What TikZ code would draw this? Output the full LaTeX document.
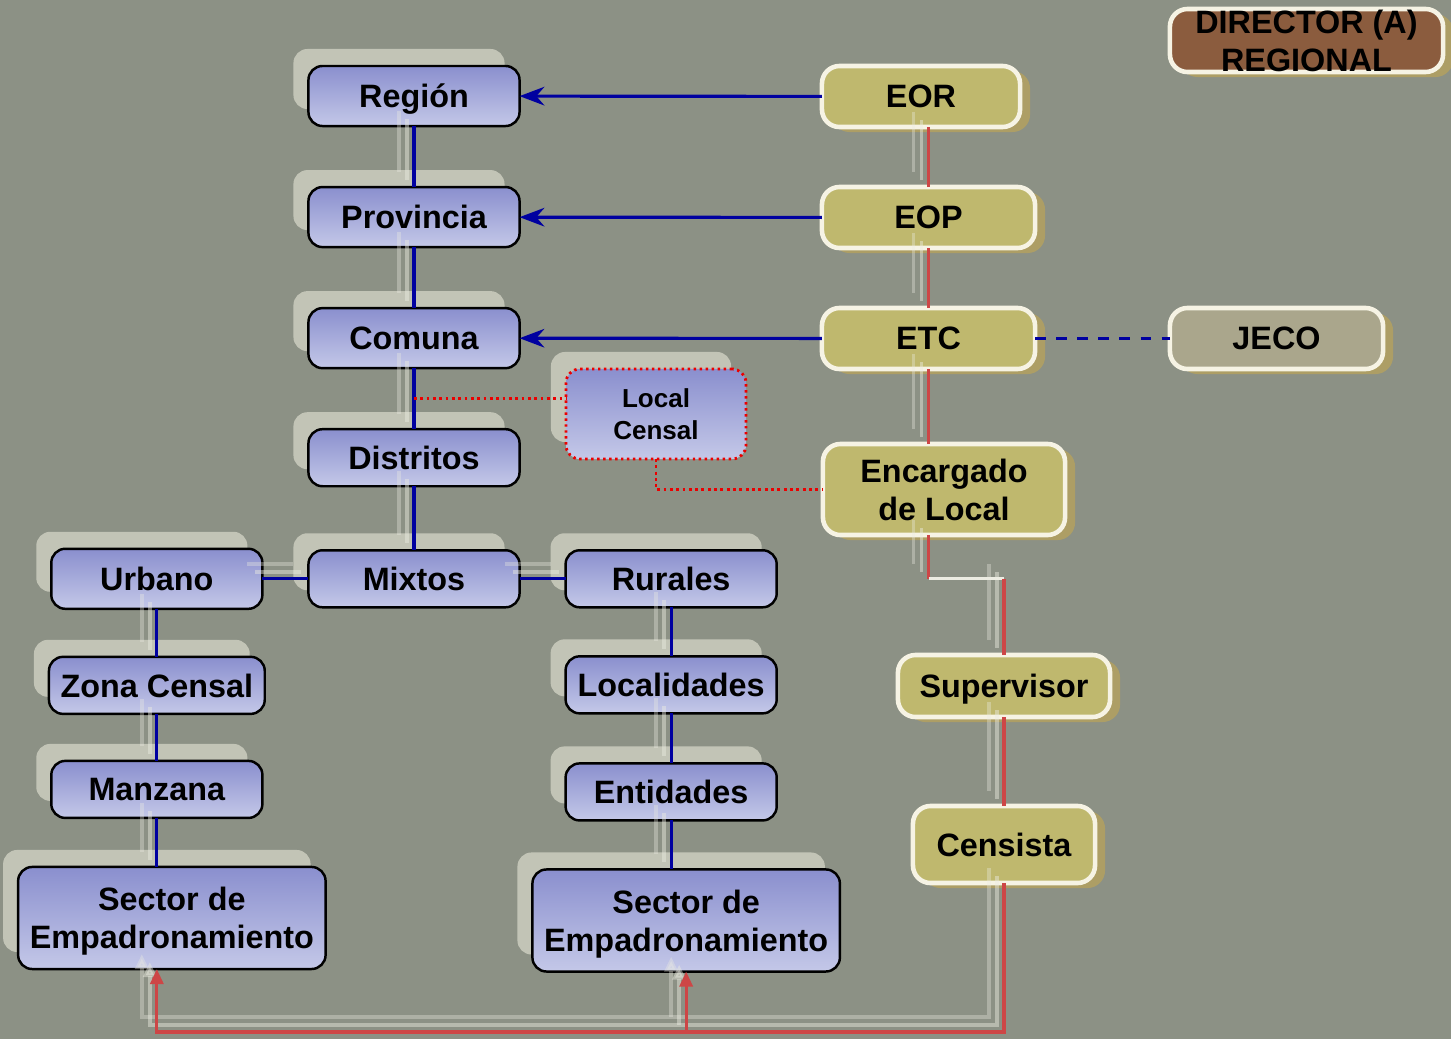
\documentclass[tikz,border=0pt]{standalone}
\usepackage{fontspec}
\setmainfont{Liberation Sans}
\usepackage{tikz}
\usetikzlibrary{arrows.meta,positioning,shadows,backgrounds}
\usepackage{xcolor}
\definecolor{bgfill}{RGB}{140,145,133}
\definecolor{bltop}{RGB}{138,143,206}
\definecolor{blmid}{RGB}{212,216,240}
\definecolor{blbot}{RGB}{196,200,232}
\definecolor{blshade}{RGB}{218,218,204}
\definecolor{yfill}{RGB}{191,184,110}
\definecolor{yshade}{RGB}{196,168,80}
\definecolor{yedge}{RGB}{246,243,228}
\definecolor{jecofill}{RGB}{170,166,140}
\definecolor{dirfill}{RGB}{139,92,62}
\definecolor{lineblue}{RGB}{0,0,160}
\definecolor{linered}{RGB}{205,70,70}
\definecolor{dotred}{RGB}{235,0,0}
\definecolor{lnwhite}{RGB}{236,236,226}
\tikzset{
    bluebox/.style={rectangle, draw=black, line width=0.7pt, rounded corners=4pt,
                    top color=bltop, middle color=blmid, bottom color=blbot,
                    minimum width=2.11cm, minimum height=0.6cm, align=center,
                    outer sep=0pt, text depth=0pt,
                    font=\fontsize{9.2}{10.8}\selectfont\bfseries,
                    general shadow={fill=blshade, draw=none, opacity=.7,
                                    shadow xshift=-0.15cm, shadow yshift=0.17cm}},
    ybox/.style={rectangle, draw=yedge, line width=1.3pt, rounded corners=5pt,
                 fill=#1, minimum height=0.61cm, align=center, outer sep=0pt,
                 text depth=0pt,
                 font=\fontsize{9.2}{10.8}\selectfont\bfseries,
                 general shadow={fill=yshade, draw=none, opacity=.6,
                                 shadow xshift=0.1cm, shadow yshift=-0.05cm}},
    ybox/.default=yfill,
    lnshade/.style={
        preaction={draw=lnwhite, line width=1.1pt, opacity=.45,
                    transform canvas={shift={(-7,-7)}}},
        preaction={draw=lnwhite, line width=1.1pt, opacity=.35,
                    transform canvas={shift={(-15,-15)}}}},
    bln/.style={draw=lineblue, line width=0.9pt, lnshade},
    rln/.style={draw=linered, line width=0.9pt, lnshade},
    barr/.style={-Stealth, draw=lineblue, line width=0.9pt},
    dotln/.style={draw=dotred, densely dotted, line width=0.8pt},
    rarr/.style={-{Triangle[length=0.15cm,width=0.13cm]}, rln},
}

\begin{document}
\begin{tikzpicture}[x=0.01cm, y=-0.01cm, node distance=0.61cm and 0.46cm]
    \useasboundingbox (0,0) rectangle (1451,1039);
    \begin{scope}[on background layer]
        \fill[bgfill] (0,0) rectangle (1451,1039);
    \end{scope}

    % geographic column
    \node[bluebox] (reg) at (414,96) {Región};
    \node[bluebox, below=of reg]  (prov) {Provincia};
    \node[bluebox, below=of prov] (com)  {Comuna};
    \node[bluebox, below=of com, minimum height=0.57cm]  (dist) {Distritos};
    \node[bluebox, below=0.64cm of dist, minimum height=0.57cm] (mix) {Mixtos};
    \node[bluebox, left=of mix]  (urb) {Urbano};
    \node[bluebox, right=of mix, minimum height=0.57cm] (rur) {Rurales};

    \node[bluebox, below=0.48cm of urb, minimum height=0.57cm]  (zona) {Zona Censal};
    \node[bluebox, below=0.47cm of zona, minimum height=0.57cm] (manz) {Manzana};
    \node[bluebox, below=0.49cm of manz, xshift=0.15cm,
          minimum width=3.01cm, minimum height=1.02cm] (secl) {Sector de\\Empadronamiento};

    \node[bluebox, below=0.49cm of rur, minimum height=0.57cm] (loc) {Localidades};
    \node[bluebox, below=0.5cm of loc, minimum height=0.57cm]  (ent) {Entidades};
    \node[bluebox, below=0.49cm of ent, xshift=0.15cm,
          minimum width=3.01cm, minimum height=1.02cm] (secr) {Sector de\\Empadronamiento};

    \node[bluebox, draw=dotred, densely dotted, line width=0.8pt,
          minimum width=1.8cm, minimum height=0.9cm,
          font=\fontsize{7.4}{9.1}\selectfont\bfseries] (lcen) at (656,414) {Local\\Censal};

    % staff column
    \node[ybox, minimum width=1.98cm] (eor) at (921,96.5)  {EOR};
    \node[ybox, minimum width=2.13cm] (eop) at (928.5,217.5) {EOP};
    \node[ybox, minimum width=2.13cm] (etc) at (928.5,338.5) {ETC};
    \node[ybox, minimum width=2.42cm, minimum height=0.91cm] (enc) at (944,489.5) {Encargado\\de Local};
    \node[ybox, minimum width=2.12cm, minimum height=0.62cm] (sup) at (1004,686) {Supervisor};
    \node[ybox, minimum width=1.82cm, minimum height=0.77cm] (cen) at (1004,844.5) {Censista};
    \node[ybox=jecofill, minimum width=2.13cm] (jeco) at (1276.5,338.5) {JECO};
    \node[ybox=dirfill, minimum width=2.73cm, minimum height=0.63cm, inner ysep=0pt]
        (dir) at (1306.5,40.5) {DIRECTOR (A)\\REGIONAL};

    % hierarchy lines
    \draw[bln] (reg) -- (prov);
    \draw[bln] (prov) -- (com);
    \draw[bln] (com) -- (dist);
    \draw[bln] (dist) -- (mix);
    \draw[bln] (mix) -- (urb);
    \draw[bln] (mix) -- (rur);
    \draw[bln] (urb) -- (zona);
    \draw[bln] (zona) -- (manz);
    \draw[bln] (manz) -- (manz |- secl.north);
    \draw[bln] (rur) -- (loc);
    \draw[bln] (loc) -- (ent);
    \draw[bln] (ent) -- (ent |- secr.north);

    % staff to territory
    \draw[barr] (eor) -- (reg);
    \draw[barr] (eop) -- (prov);
    \draw[barr] (etc) -- (com);
    \draw[lineblue, dashed, line width=0.9pt] (etc) -- (jeco);

    % local censal
    \draw[dotln] (lcen.170 -| com) -- (lcen.170);
    \draw[dotln] (lcen.south) -- (lcen.south |- enc.west) -- (enc.west);

    % staff chain
    \coordinate (rail) at (0,1032);
    \draw[rln] (eop |- eor.south) -- (eop.north);
    \draw[rln] (eop) -- (etc);
    \draw[rln] (etc) -- (etc |- enc.north);
    \draw[rln] (etc |- enc.south) -- (etc |- urb);
    \draw[lnwhite, line width=0.9pt] (etc |- urb) -- (sup |- urb);
    \draw[rln] (sup |- urb) -- (sup.north);
    \draw[rln] (sup) -- (cen);
    \draw[rarr] (cen.south) -- (cen |- rail) -| (urb |- secl.south);
    \draw[rarr] (secr |- rail) -- (secr.south);
\end{tikzpicture}
\end{document}
